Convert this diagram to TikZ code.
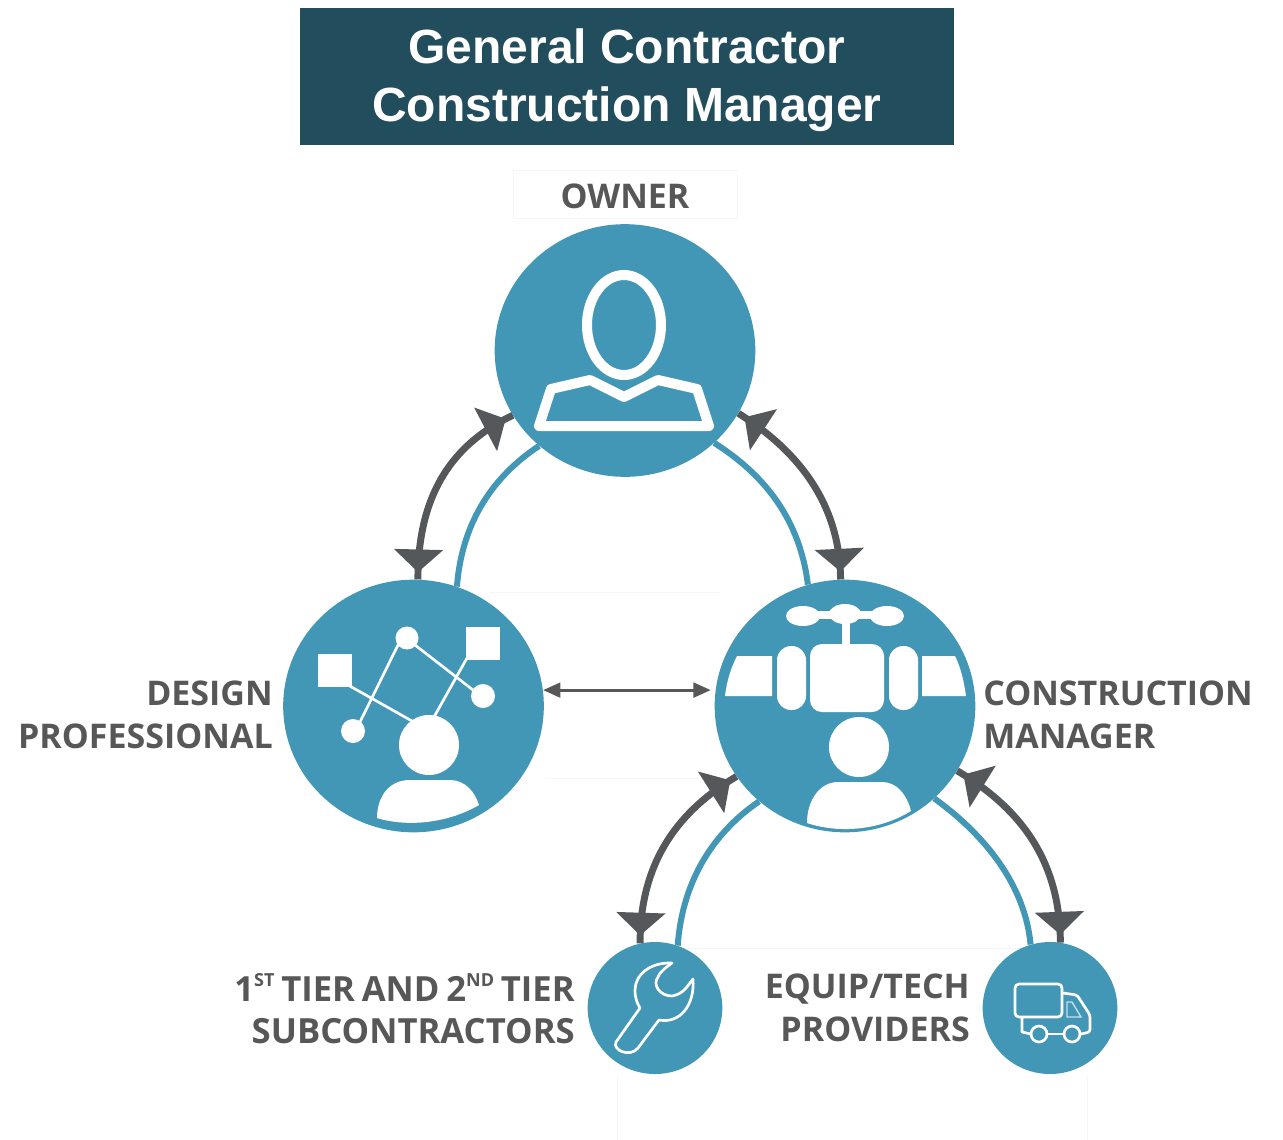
\documentclass[tikz,border=0pt]{standalone}
\usepackage{fontspec}
\setmainfont{Liberation Sans}
\newfontfamily\labelfont[WordSpace=0.75]{Open Sans}
\usetikzlibrary{arrows.meta,decorations.markings,shapes.geometric}
\definecolor{teal}{HTML}{4397B6}
\definecolor{dgray}{HTML}{54585A}
\definecolor{lgray}{HTML}{575757}
\definecolor{titlebg}{HTML}{224D5C}
\definecolor{faint}{HTML}{F6F6F6}
\newcommand{\supr}[1]{\raisebox{0.42em}{\fontsize{13.5pt}{14pt}\selectfont #1}}
\tikzset{
 x=0.75pt,y=-0.75pt,
 bigcirc/.style={ellipse,fill=teal,inner sep=0pt,minimum width=195.5pt,minimum height=189.5pt},
 smallcirc/.style={ellipse,fill=teal,inner sep=0pt,minimum width=101pt,minimum height=99pt},
 link/.style={draw=teal,line width=4.5pt},
 endtip/.style={decoration={markings,
   mark=at position 5.5pt with {\arrowreversed[line width=0pt]{Triangle[length=17pt,width=37pt]}},
   mark=at position -6pt with {\arrow[line width=0pt]{Triangle[length=17pt,width=37pt]}}},postaction={decorate},draw=dgray,line width=5.2pt},
 lab/.style={font=\labelfont\bfseries\fontsize{25.5pt}{32pt}\selectfont,text=lgray,inner sep=0pt},
 iconline/.style={draw=white,line width=2pt,line cap=round},
 iconout/.style={draw=white,line width=2pt,line join=round,line cap=round},
 ownerline/.style={draw=white,line width=7.5pt,line join=round},
 faintline/.style={draw=faint,line width=0.75pt}
}
\begin{document}
\begin{tikzpicture}
\useasboundingbox (0,0) rectangle (1283,1140);
% faint traces
\draw[faintline] (513,218) -- (513,170) -- (737,170) -- (737,218) -- cycle;
\draw[faintline] (490,592) -- (720,592);
\draw[faintline] (545,778) -- (720,778);
\draw[faintline] (680,948) -- (1030,948);
\draw[faintline] (617,1075) -- (617,1140);
\draw[faintline] (1087,1075) -- (1087,1140);
% title
\node[fill=titlebg,minimum width=490.5pt,minimum height=103pt,inner sep=0pt] (titlebox) at (627,76.5) {};
\node[inner sep=0pt,text=white,align=center,font=\bfseries\fontsize{36pt}{43.5pt}\selectfont] (title) at (627,80) {General Contractor\\Construction Manager};
% circles
\node[bigcirc] (owner) at (625,350.5) {};
\node[bigcirc] (design) at (413.5,706) {};
\node[bigcirc] (cm) at (845,706) {};
\node[smallcirc] (sub) at (655,1008) {};
\node[smallcirc] (equip) at (1050,1008) {};
% teal links
\draw[link] (design.70) .. controls (462,520) and (495,475) .. (owner.228);
\draw[link] (owner.314) .. controls (765,475) and (800,520) .. (cm.107);
\draw[link] (cm.228) .. controls (710,835) and (682,885) .. (sub.70);
\draw[link] (cm.314) .. controls (985,835) and (1025,885) .. (equip.107);
% gray flows
\draw[endtip] (design.88) .. controls (418,510) and (440,450) .. (owner.210);
\draw[endtip] (owner.331) .. controls (805,455) and (840,510) .. (cm.92);
\draw[endtip] (cm.213) .. controls (680,810) and (640,860) .. (sub.103);
\draw[endtip] (cm.330) .. controls (1020,808) and (1060,860) .. (equip.81);
\draw[draw=lgray,line width=2.2pt,{Triangle[length=13pt,width=11pt]}-{Triangle[length=13pt,width=11pt]},shorten >=3.5pt] (design.7) -- (cm.173);
% labels
\node[lab] (ownerlab) at (625,196) {OWNER};
\node[lab,align=right,anchor=east] (designlab) at (273,715) {DESIGN\\PROFESSIONAL};
\node[lab,align=left,anchor=west] (cmlab) at (983,715) {CONSTRUCTION\\MANAGER};
\node[lab,align=right,anchor=east,font=\labelfont\bfseries\fontsize{26pt}{32pt}\selectfont] (sublab) at (575,1009) {1\supr{ST} TIER AND 2\supr{ND} TIER\\SUBCONTRACTORS};
\node[lab,align=right,anchor=east] (equiplab) at (970,1008) {EQUIP/TECH\\PROVIDERS};
% owner icon
\draw[ownerline] (624,325) ellipse (37 and 50);
\draw[ownerline] (539,426) -- (551,389) -- (590,380) -- (624,397) -- (658,380) -- (697,389) -- (709,426) -- cycle;
% design icon
\draw[iconline] (348,685) -- (412,721);
\draw[iconline] (398,645) -- (360,722);
\draw[iconline] (415,645) -- (473,690);
\draw[iconline] (467,658) -- (434,717);
\fill[white] (318,654) rectangle (352,687);
\fill[white] (466,627) rectangle (500,660);
\fill[white] (407,638) circle (11.5);
\fill[white] (483,696) circle (12);
\fill[white] (353,731) circle (12);
\fill[white] (429,745) circle (30);
\fill[white] (377,818) .. controls (377,798) and (388,780) .. (410,780) -- (450,780) .. controls (465,780) and (475,792) .. (479,805) .. controls (450,822) and (410,828) .. (377,818) -- cycle;
% cm icon
\fill[white] (803,616) ellipse (17 and 10);
\fill[white] (845,614) ellipse (16 and 10);
\fill[white] (887,616) ellipse (17 and 10);
\fill[white] (803,611) rectangle (887,619);
\fill[white] (842,618) rectangle (850,646);
\fill[white,rounded corners=9pt] (810,644) rectangle (884,712);
\fill[white,rounded corners=10.5pt] (777,646) rectangle (806,710);
\fill[white,rounded corners=10.5pt] (889,646) rectangle (918,710);
\fill[white] (737,656) -- (772,656) -- (772,696) -- (725,696) .. controls (727,680) and (731,668) .. (737,656) -- cycle;
\fill[white] (922,656) -- (955,656) .. controls (961,668) and (964,682) .. (966,696) -- (922,696) -- cycle;
\fill[white] (859,747) circle (30);
\fill[white] (807,823) .. controls (807,800) and (820,782) .. (838,782) -- (882,782) .. controls (897,782) and (907,795) .. (911,811) .. controls (880,830) and (840,834) .. (807,823) -- cycle;
% wrench
\draw[iconout] (672,963) .. controls (650,962) and (635,975) .. (635,990) .. controls (635,998) and (637,1003) .. (640,1008)
 -- (616,1042) .. controls (612,1050) and (630,1058) .. (638,1048) -- (659,1020)
 .. controls (680,1024) and (695,1005) .. (693,979) .. controls (688,985) and (684,994) .. (672,996) .. controls (660,996) and (652,985) .. (658,977) .. controls (661,970) and (667,967) .. (672,963) -- cycle;
% truck
\draw[iconout,rounded corners=3pt] (1015,984) rectangle (1062,1017);
\draw[iconout,rounded corners=2pt] (1063,993) -- (1077,995) -- (1090,1015) -- (1090,1032) -- (1081,1034);
\draw[iconout] (1022,1018) -- (1022,1032) -- (1031,1034);
\draw[iconout] (1047,1034) -- (1064,1034);
\draw[iconout] (1039,1034) circle (8);
\draw[iconout] (1072,1034) circle (8);
\draw[draw=white!70!teal,line width=1pt] (1067,1002) -- (1072,1002) -- (1081,1017) -- (1067,1017) -- cycle;
\end{tikzpicture}
\end{document}
